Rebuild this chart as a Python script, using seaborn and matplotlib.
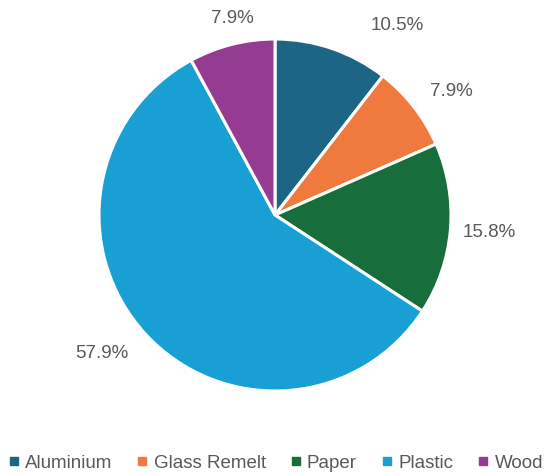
import matplotlib
matplotlib.use("Agg")
import numpy as np
import matplotlib.pyplot as plt
import seaborn as sns
from matplotlib.lines import Line2D

sns.set_theme(style="white")
plt.rcParams['font.family'] = ['Liberation Sans', 'DejaVu Sans']

materials = ["Aluminium", "Glass Remelt", "Paper", "Plastic", "Wood"]
shares = [10.5, 7.9, 15.8, 57.9, 7.9]
colors = ["#1D6584", "#F07A3E", "#176E3B", "#18A0D4", "#953B92"]
text_color = "#595959"

# label placement (Excel "best fit" look): radial distance and angle nudge per slice
label_radius = [1.28, 1.22, 1.22, 1.26, 1.14]
label_nudge = [-14, -3, 0, -4, -2]

fig = plt.figure(figsize=(5.51, 4.73), dpi=100)
# pie centre ~ (275, 215) px, radius ~176 px
ax = fig.add_axes([(275 - 176) / 551, (473 - 215 - 176) / 473, 352 / 551, 352 / 473])

wedges, texts, autotexts = ax.pie(
    shares, colors=colors, startangle=90, counterclock=False,
    autopct="%.1f%%", pctdistance=1.22, radius=1.0,
    wedgeprops=dict(edgecolor="white", linewidth=2.2),
    textprops=dict(color=text_color, fontsize=13.5),
)
for w, t, r, d in zip(wedges, autotexts, label_radius, label_nudge):
    ang = np.deg2rad((w.theta1 + w.theta2) / 2 + d)
    t.set_position((r * np.cos(ang), r * np.sin(ang)))

ax.set_aspect("equal")
ax.set_xlim(-1, 1)
ax.set_ylim(-1, 1)
ax.axis("off")

handles = [Line2D([], [], marker="s", linestyle="none", markersize=6,
                  markerfacecolor=c, markeredgecolor=c) for c in colors]
fig.legend(handles, materials, loc="center", bbox_to_anchor=(0.5, (473 - 463) / 473),
           ncol=5, frameon=False, fontsize=13.5, handlelength=0.6, handletextpad=0.3,
           columnspacing=1.3, labelcolor=text_color)

fig.savefig("out.png", dpi=100)
